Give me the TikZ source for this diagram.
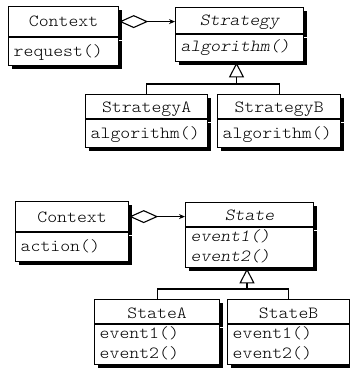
\documentclass[tikz,border=0pt]{standalone}
\usepackage{fontspec}
\setmonofont{lmmonolt10-regular.otf}[ItalicFont=lmmonolt10-oblique.otf, FakeStretch=1.11]
\usetikzlibrary{arrows.meta,shadows}
\newcommand\umlfont{\ttfamily\fontsize{17}{20}\selectfont}
\tikzset{
  compart/.style={draw=black, fill=white, line width=1.2pt, inner sep=0pt,
    anchor=north west,
    drop shadow={shadow xshift=3pt, shadow yshift=-3pt, fill=black, opacity=1}},
  lbl/.style={font=\umlfont, inner sep=0pt, anchor=base},
  op/.style={font=\umlfont, inner sep=0pt, anchor=base west},
  abstr/.style={font=\umlfont\itshape},
  link/.style={line width=1.1pt, draw=black},
  aggr/.style={link, {Diamond[open, length=29pt, width=13pt]}-{Stealth[length=6pt, width=5pt]}},
  inherit/.style={link, -{Triangle[fill=white, length=15pt, width=15pt]}}
}
\begin{document}
\begin{tikzpicture}[x=1pt, y=-1pt]
\useasboundingbox (0,0) rectangle (350,369);

% ---------- Strategy pattern ----------
\node[compart, minimum width=110pt, minimum height=30pt] (ctxT) at (8,6) {};
\node[compart, minimum width=110pt, minimum height=28pt] (ctxM) at (ctxT.south west) {};
\node[lbl] (ctxN) at (ctxT.center |- 0,27) {Context};
\node[op] (ctxO) at (13.5,56.5) {request()};

\node[compart, minimum width=128pt, minimum height=26pt] (stratT) at (175,7) {};
\node[compart, minimum width=128pt, minimum height=27pt] (stratM) at (stratT.south west) {};
\node[lbl, abstr] (stratN) at (stratT.center |- 0,26) {Strategy};
\node[op, abstr] (stratO) at (180.5,52) {algorithm()};

\node[compart, minimum width=122pt, minimum height=24pt] (saT) at (85,94) {};
\node[compart, minimum width=122pt, minimum height=28pt] (saM) at (saT.south west) {};
\node[lbl] (saN) at (saT.center |- 0,112) {StrategyA};
\node[op] (saO) at (90.5,138) {algorithm()};

\node[compart, minimum width=123pt, minimum height=24pt] (sbT) at (217,94) {};
\node[compart, minimum width=123pt, minimum height=28pt] (sbM) at (sbT.south west) {};
\node[lbl] (sbN) at (sbT.center |- 0,112) {StrategyB};
\node[op] (sbO) at (222.5,138) {algorithm()};

\draw[aggr] (ctxT.east) -- (stratT.west |- ctxT.east);
\coordinate (jt) at (236.5,84);
\draw[link] (saT.north) |- (jt) -| (sbT.north);
\draw[inherit] (jt) -- (jt |- stratM.south);

% ---------- State pattern ----------
\node[compart, minimum width=113pt, minimum height=30pt] (cxT) at (15,201) {};
\node[compart, minimum width=113pt, minimum height=29pt] (cxM) at (cxT.south west) {};
\node[lbl] (cxN) at (cxT.center |- 0,222) {Context};
\node[op] (cxO) at (20.5,251) {action()};

\node[compart, minimum width=128pt, minimum height=24pt] (stT) at (185,202) {};
\node[compart, minimum width=128pt, minimum height=40pt] (stM) at (stT.south west) {};
\node[lbl, abstr] (stN) at (stT.center |- 0,220) {State};
\node[op, abstr] (stO1) at (190.5,241) {event1()};
\node[op, abstr] (stO2) at (190.5,261) {event2()};

\node[compart, minimum width=125pt, minimum height=24pt] (aT) at (94,299) {};
\node[compart, minimum width=125pt, minimum height=40pt] (aM) at (aT.south west) {};
\node[lbl] (aN) at (aT.center |- 0,318) {StateA};
\node[op] (aO1) at (99.5,338) {event1()};
\node[op] (aO2) at (99.5,358) {event2()};

\node[compart, minimum width=122pt, minimum height=24pt] (bT) at (227,299) {};
\node[compart, minimum width=122pt, minimum height=40pt] (bM) at (bT.south west) {};
\node[lbl] (bN) at (bT.center |- 0,318) {StateB};
\node[op] (bO1) at (232.5,338) {event1()};
\node[op] (bO2) at (232.5,358) {event2()};

\draw[aggr] (cxT.east) -- (stT.west |- cxT.east);
\coordinate (jb) at (247,289);
\draw[link] (aT.north) |- (jb) -| (bT.north);
\draw[inherit] (jb) -- (jb |- stM.south);
\end{tikzpicture}
\end{document}
